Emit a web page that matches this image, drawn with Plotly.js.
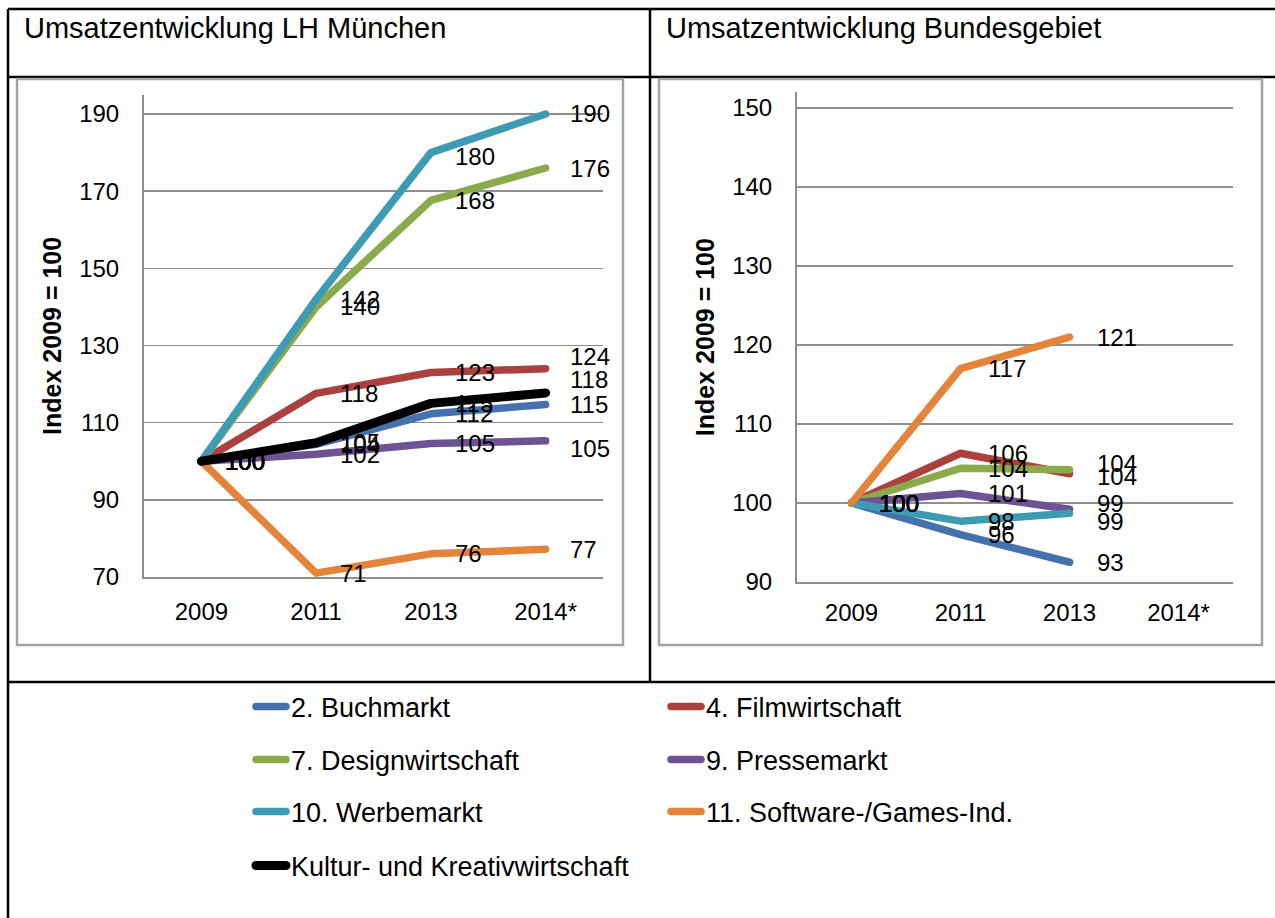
<!DOCTYPE html>
<html>
<head>
<meta charset="utf-8">
<script src="https://cdn.plot.ly/plotly-3.0.1.min.js"></script>
<style>
  html, body { margin: 0; padding: 0; background: #fff; }
  #chart { width: 1275px; height: 918px; }
  .scatterlayer .js-line { stroke-linecap: round; stroke-linejoin: round; }
  .legendlines path { stroke-linecap: round; }
</style>
</head>
<body>
<div id="chart"></div>
<script>
// ---- data ----
const years = ['2009', '2011', '2013', '2014*'];
const seriesNames = ['2. Buchmarkt', '4. Filmwirtschaft', '7. Designwirtschaft', '9. Pressemarkt',
                     '10. Werbemarkt', '11. Software-/Games-Ind.', 'Kultur- und Kreativwirtschaft'];
const seriesColors = ['#4672AC', '#AB413F', '#8AAA4B', '#6D5394', '#3D9BB3', '#E3843A', '#000000'];

// Umsatzentwicklung LH München (Index 2009 = 100)
const muenchenBuch   = [100, 104.4, 112.3, 114.7];
const muenchenFilm   = [100, 117.6, 123.0, 124.0];
const muenchenDesign = [100, 140.0, 167.6, 176.0];
const muenchenPresse = [100, 101.8, 104.6, 105.3];
const muenchenWerbe  = [100, 142.0, 180.0, 190.0];
const muenchenSoft   = [100, 71.0, 76.0, 77.2];
const muenchenKultur = [100, 104.8, 115.0, 117.7];

// Umsatzentwicklung Bundesgebiet (Index 2009 = 100)
const bundBuch   = [100, 96.0, 92.5];
const bundFilm   = [100, 106.3, 103.7];
const bundDesign = [100, 104.4, 104.2];
const bundPresse = [100, 101.2, 99.2];
const bundWerbe  = [100, 97.7, 98.7];
const bundSoft   = [100, 117.0, 121.0];

const leftTitle = 'Umsatzentwicklung LH München';
const rightTitle = 'Umsatzentwicklung Bundesgebiet';
const yTitle = 'Index 2009 = 100';

// ---- build ----
const W = 1275, H = 918;
const px = v => v / W;
const py = v => 1 - v / H;
const FONT = '"Liberation Sans", Arial, Helvetica, sans-serif';

const muenchen = [muenchenBuch, muenchenFilm, muenchenDesign, muenchenPresse, muenchenWerbe, muenchenSoft, muenchenKultur];
const bund = [bundBuch, bundFilm, bundDesign, bundPresse, bundWerbe, bundSoft];
const legendIds = ['legend', 'legend', 'legend2', 'legend2', 'legend3', 'legend3', 'legend4'];

const traces = [];
muenchen.forEach((vals, i) => {
  traces.push({
    type: 'scatter', mode: 'lines', name: seriesNames[i],
    x: years.slice(0, vals.length), y: vals, xaxis: 'x', yaxis: 'y',
    line: { color: seriesColors[i], width: i === 6 ? 9 : 7.5 },
    legend: legendIds[i], showlegend: true, hoverinfo: 'skip'
  });
});
bund.forEach((vals, i) => {
  traces.push({
    type: 'scatter', mode: 'lines', name: seriesNames[i],
    x: years.slice(0, vals.length), y: vals, xaxis: 'x2', yaxis: 'y2',
    line: { color: seriesColors[i], width: 7.5 },
    showlegend: false, hoverinfo: 'skip'
  });
});

// label nudges (label placement only, like manually moved Excel labels)
const nudgeLeft = { '1-3': 12, '6-3': 13, '3-3': -8, '4-2': -4 };
const nudgeRight = { '2-2': 6, '1-2': -3, '3-2': 6, '4-2': -8 };

const annotations = [];
muenchen.forEach((vals, i) => {
  vals.forEach((v, j) => {
    annotations.push({
      xref: 'x', yref: 'y', x: j, y: v, text: String(Math.round(v)),
      showarrow: false, xanchor: 'left', yanchor: 'middle', xshift: 22,
      yshift: nudgeLeft[i + '-' + j] || 0,
      font: { family: FONT, size: 24, color: '#000' }
    });
  });
});
bund.forEach((vals, i) => {
  vals.forEach((v, j) => {
    annotations.push({
      xref: 'x2', yref: 'y2', x: j, y: v, text: String(Math.round(v)),
      showarrow: false, xanchor: 'left', yanchor: 'middle', xshift: 25,
      yshift: nudgeRight[i + '-' + j] || 0,
      font: { family: FONT, size: 24, color: '#000' }
    });
  });
});
annotations.push({
  xref: 'paper', yref: 'paper', x: px(22), y: py(28), text: leftTitle, showarrow: false,
  xanchor: 'left', yanchor: 'middle', font: { family: FONT, size: 29, color: '#000' }
});
annotations.push({
  xref: 'paper', yref: 'paper', x: px(664), y: py(28), text: rightTitle, showarrow: false,
  xanchor: 'left', yanchor: 'middle', font: { family: FONT, size: 29, color: '#000' }
});

const gridC = '#8E8E8E';
const axisCommon = {
  showgrid: true, gridcolor: gridC, gridwidth: 1.6,
  showline: true, linecolor: gridC, linewidth: 2,
  zeroline: false, ticks: '', fixedrange: true,
  tickfont: { family: FONT, size: 24, color: '#000' }
};

const lineShape = (x0, y0, x1, y1, w, c) => ({
  type: 'line', xref: 'paper', yref: 'paper', x0: px(x0), y0: py(y0), x1: px(x1), y1: py(y1),
  line: { color: c || '#000', width: w || 2 }, layer: 'below'
});
const boxShape = (x0, y0, x1, y1) => ({
  type: 'rect', xref: 'paper', yref: 'paper', x0: px(x0), y0: py(y0), x1: px(x1), y1: py(y1),
  line: { color: '#A3A3A3', width: 2.5 }, fillcolor: 'rgba(0,0,0,0)', layer: 'below'
});

const shapes = [
  lineShape(8, 9, 1275, 9, 2.5),
  lineShape(8, 77, 1275, 77, 2.5),
  lineShape(8, 682, 1275, 682, 2.5),
  lineShape(8, 9, 8, 918, 2.5),
  lineShape(650, 9, 650, 682, 2.5),
  boxShape(17, 79, 623, 645),
  boxShape(659, 79, 1262, 645)
];

const legendCommon = {
  orientation: 'h', xanchor: 'left', yanchor: 'middle',
  entrywidth: 370, entrywidthmode: 'pixels', bgcolor: 'rgba(0,0,0,0)',
  font: { family: FONT, size: 27, color: '#000' }, itemwidth: 30, itemclick: false, itemdoubleclick: false
};
const lx = px(251);

const ytitle = { text: yTitle, standoff: 10, font: { family: FONT, size: 25, color: '#000', weight: 'bold' } };

const layout = {
  width: W, height: H,
  margin: { l: 0, r: 0, t: 0, b: 0 },
  paper_bgcolor: '#fff', plot_bgcolor: 'rgba(0,0,0,0)',
  showlegend: true,
  xaxis: Object.assign({}, axisCommon, {
    domain: [px(144), px(603)], anchor: 'y', type: 'category', categoryarray: years,
    categoryorder: 'array', range: [-0.5, 3.5], showgrid: false, ticklabelstandoff: 12
  }),
  yaxis: Object.assign({}, axisCommon, {
    domain: [py(577), py(94.7)], anchor: 'x', range: [70, 195], tick0: 70, dtick: 20,
    ticklabelstandoff: 18, title: ytitle
  }),
  xaxis2: Object.assign({}, axisCommon, {
    domain: [px(797), px(1233)], anchor: 'y2', type: 'category', categoryarray: years,
    categoryorder: 'array', range: [-0.5, 3.5], showgrid: false, ticklabelstandoff: 8
  }),
  yaxis2: Object.assign({}, axisCommon, {
    domain: [py(582), py(92.2)], anchor: 'x2', range: [90, 152], tick0: 90, dtick: 10,
    ticklabelstandoff: 18, title: ytitle
  }),
  legend:  Object.assign({}, legendCommon, { x: lx, y: py(707) }),
  legend2: Object.assign({}, legendCommon, { x: lx, y: py(760) }),
  legend3: Object.assign({}, legendCommon, { x: lx, y: py(812) }),
  legend4: Object.assign({}, legendCommon, { x: lx, y: py(866) }),
  annotations: annotations,
  shapes: shapes
};

Plotly.newPlot('chart', traces, layout, { staticPlot: true, displayModeBar: false });
</script>
</body>
</html>
